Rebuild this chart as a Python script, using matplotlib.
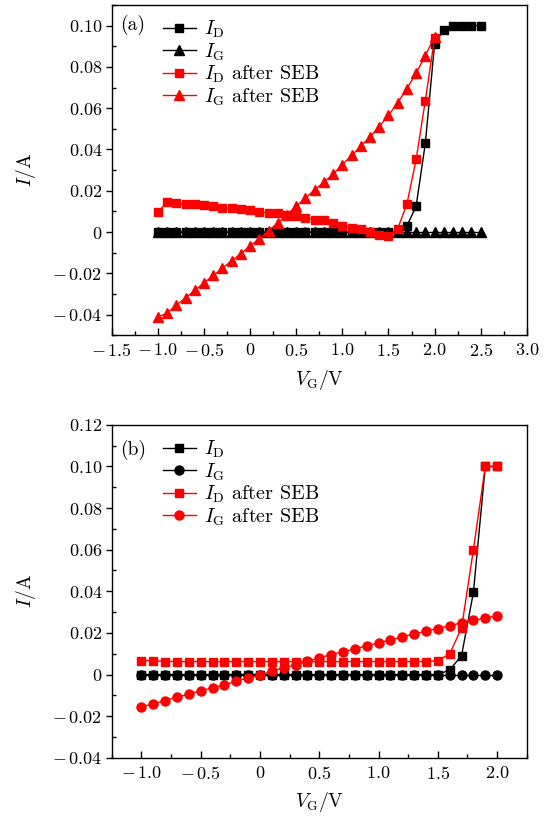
import matplotlib
matplotlib.use("Agg")
import matplotlib.pyplot as plt
from matplotlib.ticker import MultipleLocator, FuncFormatter
import numpy as np

plt.rcParams['font.family'] = 'serif'
plt.rcParams['font.serif'] = ['cmr10']
plt.rcParams['mathtext.fontset'] = 'cm'
plt.rcParams['axes.unicode_minus'] = False
plt.rcParams['axes.formatter.use_mathtext'] = True

# ---- panel (a) data ----
vg_a = np.round(np.arange(-1.0, 2.51, 0.1), 1)
id_a = [0]*27 + [0.003, 0.0125, 0.043, 0.091, 0.098, 0.100, 0.100, 0.100, 0.100]
ig_a = [0]*36
vg_a_seb = np.round(np.arange(-1.0, 2.01, 0.1), 1)
id_a_seb = [0.0098, 0.0145, 0.0140, 0.0135, 0.0135, 0.0129, 0.0124, 0.0119, 0.0115, 0.0110,
            0.0105, 0.0097, 0.0092, 0.0092, 0.0081, 0.0076, 0.0068, 0.0061, 0.0061, 0.0044,
            0.0031, 0.0021, 0.0013, 0.0000, -0.0013, -0.0019, 0.0016, 0.0135, 0.0352, 0.0637,
            0.0939]
ig_a_seb = [-0.0411, -0.0392, -0.0354, -0.0318, -0.0282, -0.0246, -0.0210, -0.0174, -0.0139, -0.0104,
            -0.0066, -0.0032, 0.0006, 0.0045, 0.0085, 0.0125, 0.0165, 0.0205, 0.0242, 0.0280,
            0.0327, 0.0371, 0.0416, 0.0461, 0.0511, 0.0565, 0.0626, 0.0695, 0.0769, 0.0855,
            0.0945]

# ---- panel (b) data ----
vg_b = np.round(np.arange(-1.0, 2.01, 0.1), 1)
id_b = [0]*26 + [0.0022, 0.0091, 0.0395, 0.100, 0.100]
ig_b = [0]*31
id_b_seb = [0.0067, 0.0067] + [0.0062]*23 + [0.0067, 0.0099, 0.0224, 0.060, 0.100, 0.100]
ig_b_seb = [-0.0155, -0.0141, -0.0125, -0.0109, -0.0094, -0.0078, -0.0064, -0.0050, -0.0032, -0.0016,
            -0.0003, 0.0016, 0.0032, 0.0046, 0.0064, 0.0080, 0.0096, 0.0109, 0.0123, 0.0138,
            0.0152, 0.0166, 0.0181, 0.0195, 0.0208, 0.0221, 0.0235, 0.0248, 0.0261, 0.0270,
            0.0283]

labels = [r'$I_{\rm D}$', r'$I_{\rm G}$', r'$I_{\rm D}$ after SEB', r'$I_{\rm G}$ after SEB']


def fmt(dec):
    def f(v, pos):
        if abs(v) < 1e-9:
            return r'$0$'
        if v < 0:
            return r'$-\,%.*f$' % (dec, -v)
        return r'$%.*f$' % (dec, v)
    return FuncFormatter(f)


def style(ax, xmaj, ymaj, xdec, ydec):
    ax.xaxis.set_major_locator(MultipleLocator(xmaj))
    ax.xaxis.set_minor_locator(MultipleLocator(xmaj/2))
    ax.yaxis.set_major_locator(MultipleLocator(ymaj))
    ax.yaxis.set_minor_locator(MultipleLocator(ymaj/2))
    ax.xaxis.set_major_formatter(fmt(xdec))
    ax.yaxis.set_major_formatter(fmt(ydec))
    ax.tick_params(axis='x', which='major', direction='in', length=5, width=1, labelsize=13, pad=5)
    ax.tick_params(axis='x', which='minor', direction='in', length=3, width=1)
    ax.tick_params(axis='y', which='major', direction='out', length=4, width=1, labelsize=13, pad=3)
    ax.tick_params(axis='y', which='minor', direction='in', length=3, width=1)
    for s in ax.spines.values():
        s.set_linewidth(1.0)
    ax.set_xlabel(r'$V_{\rm G}$/V', fontsize=14, labelpad=6)
    ax.set_ylabel(r'$I$/A', fontsize=14, labelpad=10)


fig = plt.figure(figsize=(5.51, 8.16), dpi=100)
ax1 = fig.add_axes([0.203, 0.589, 0.753, 0.405])
ax2 = fig.add_axes([0.203, 0.0714, 0.753, 0.408])

ms = 5.5
ax1.plot(vg_a, id_a, '-s', color='black', lw=1, ms=ms, label=labels[0])
ax1.plot(vg_a, ig_a, '-^', color='black', lw=1, ms=ms+1, label=labels[1])
ax1.plot(vg_a_seb, id_a_seb, '-s', color='red', lw=1, ms=ms, label=labels[2])
ax1.plot(vg_a_seb, ig_a_seb, '-^', color='red', lw=1, ms=ms+1, label=labels[3])
ax1.set_xlim(-1.5, 3.0)
ax1.set_ylim(-0.05, 0.11)
style(ax1, 0.5, 0.02, 1, 2)
ax1.legend(loc='upper left', bbox_to_anchor=(0.09, 1.0), frameon=False, fontsize=14.5,
           handlelength=1.6, handletextpad=0.4, labelspacing=0.05, borderaxespad=0.3)
ax1.text(0.02, 0.94, '(a)', transform=ax1.transAxes, fontsize=14, va='center', ha='left')

ax2.plot(vg_b, id_b, '-s', color='black', lw=1, ms=ms, label=labels[0])
ax2.plot(vg_b, ig_b, '-o', color='black', lw=1, ms=ms+1, label=labels[1])
ax2.plot(vg_b, id_b_seb, '-s', color='red', lw=1, ms=ms, label=labels[2])
ax2.plot(vg_b, ig_b_seb, '-o', color='red', lw=1, ms=ms+1, label=labels[3])
ax2.set_xlim(-1.25, 2.25)
ax2.set_ylim(-0.04, 0.12)
style(ax2, 0.5, 0.02, 1, 2)
ax2.legend(loc='upper left', bbox_to_anchor=(0.09, 1.0), frameon=False, fontsize=14.5,
           handlelength=1.6, handletextpad=0.4, labelspacing=0.05, borderaxespad=0.3)
ax2.text(0.02, 0.925, '(b)', transform=ax2.transAxes, fontsize=14, va='center', ha='left')

fig.savefig('out.png', dpi=100)
